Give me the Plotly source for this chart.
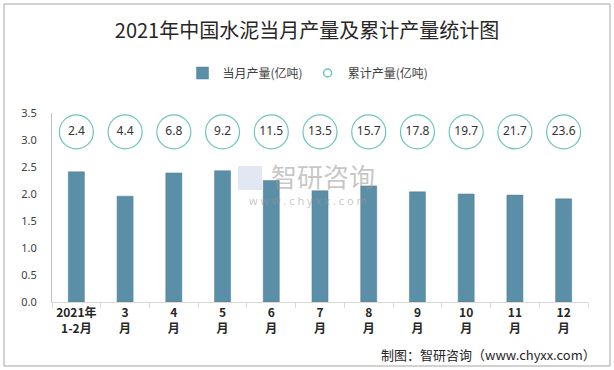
import plotly.graph_objects as go

categories = ["2021年<br>1-2月", "3<br>月", "4<br>月", "5<br>月", "6<br>月", "7<br>月",
              "8<br>月", "9<br>月", "10<br>月", "11<br>月", "12<br>月"]
monthly = [2.41, 1.96, 2.39, 2.43, 2.25, 2.06, 2.15, 2.04, 2.00, 1.98, 1.91]
cumulative = [2.4, 4.4, 6.8, 9.2, 11.5, 13.5, 15.7, 17.8, 19.7, 21.7, 23.6]
label_row = [3.15] * len(categories)

W, H = 614, 370
L, R, T, B = 52, 26, 113, 68
pw, ph = W - L - R, H - T - B

def px(x):
    return (x - L) / pw

def py(y):
    return (H - B - y) / ph

bar_color = "#5B8FA7"
ring_color = "#6CC5BD"

fig = go.Figure()
fig.add_trace(go.Bar(
    x=categories, y=monthly, name="当月产量(亿吨)",
    marker=dict(color=bar_color, line=dict(color="#4F7F96", width=0.5)),
    width=0.33,
))
fig.add_trace(go.Scatter(
    x=categories, y=label_row, mode="markers+text",
    text=[f"{v:.1f}" for v in cumulative], textposition="middle center",
    textfont=dict(size=12, color="#333333", family="Noto Sans, sans-serif"),
    marker=dict(size=34, color="white", line=dict(color=ring_color, width=1.2)),
    showlegend=False, cliponaxis=False,
))
fig.add_trace(go.Scatter(
    x=[categories[0]], y=[None], mode="markers", name="累计产量(亿吨)",
    marker=dict(size=8, color="white", line=dict(color=ring_color, width=1.5)),
))

fig.update_layout(
    width=W, height=H,
    margin=dict(l=L, r=R, t=T, b=B, autoexpand=False),
    paper_bgcolor="white", plot_bgcolor="white",
    font=dict(family="Noto Sans CJK SC, sans-serif", color="#404040"),
    title=dict(text="2021年中国水泥当月产量及累计产量统计图",
               font=dict(size=20, color="#262626", family="Noto Sans CJK SC, sans-serif"),
               x=0.5, xanchor="center", xref="container",
               y=1 - 31 / H, yanchor="middle", yref="container"),
    legend=dict(orientation="h", x=px(308), xanchor="center", y=py(73), yanchor="middle",
                font=dict(size=12, color="#404040"), itemwidth=30, traceorder="normal",
                bgcolor="rgba(0,0,0,0)"),
    showlegend=True,
)
fig.update_xaxes(
    type="category", categoryorder="array", categoryarray=categories,
    range=[-0.5, len(categories) - 0.5],
    showline=True, linecolor="#D9D9D9", linewidth=1,
    ticks="outside", tickson="boundaries", ticklen=5, tickcolor="#D9D9D9",
    tickangle=0,
    tickfont=dict(size=12, color="#262626", family="Noto Sans CJK SC, sans-serif", weight="bold"),
    showgrid=False, zeroline=False,
)
fig.update_yaxes(
    range=[0, 3.5], dtick=0.5, tickformat=".1f",
    showline=True, linecolor="#BFBFBF", linewidth=1,
    showgrid=False, zeroline=False, ticks="",
    ticklabelstandoff=12,
    tickfont=dict(size=11, color="#404040", family="Noto Sans, sans-serif"),
)

# watermark
fig.add_annotation(text="智研咨询", xref="paper", yref="paper", x=px(323), y=py(175),
                   xanchor="center", yanchor="middle",
                   showarrow=False, font=dict(size=26, color="rgba(150,150,150,0.55)"))
fig.add_annotation(text="w w w . c h y x x . c o m", xref="paper", yref="paper",
                   x=px(308), y=py(200), xanchor="center", yanchor="middle", showarrow=False,
                   font=dict(size=11, color="rgba(150,150,150,0.55)", family="Noto Sans, sans-serif"))
fig.add_shape(type="rect", xref="paper", yref="paper",
              x0=px(238), x1=px(262), y0=py(190), y1=py(166),
              fillcolor="rgba(170,190,220,0.35)", line=dict(width=0), layer="above")

# source
fig.add_annotation(text="制图：智研咨询（www.chyxx.com）", xref="paper", yref="paper",
                   x=px(598), y=py(354), xanchor="right", yanchor="middle", showarrow=False,
                   font=dict(size=13, color="#262626"))

# border
fig.add_shape(type="rect", xref="paper", yref="paper",
              x0=px(4), x1=px(610), y0=py(366), y1=py(4),
              line=dict(color="#A6A6A6", width=1), fillcolor="rgba(0,0,0,0)", layer="below")

fig.write_html("out.html", config={"staticPlot": True},
               post_script="document.body.style.margin='0';document.body.style.padding='0';")
